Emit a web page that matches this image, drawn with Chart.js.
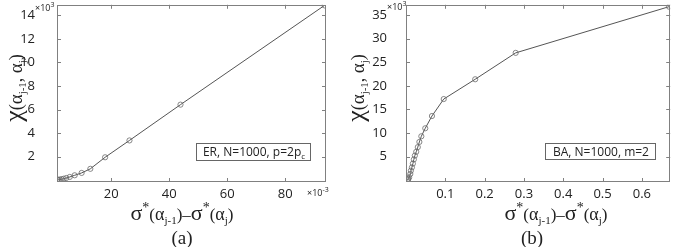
<!DOCTYPE html>
<html>
<head>
<meta charset="utf-8">
<style>
html, body { margin: 0; padding: 0; background: #fff; }
#wrap { position: relative; width: 675px; height: 247px; overflow: hidden; }
#boxA { position: absolute; left: 0; top: 0; width: 340px; height: 247px; }
#boxB { position: absolute; left: 340px; top: 0; width: 335px; height: 247px; }
</style>
</head>
<body>
<div id="wrap">
	<div id="boxA"><canvas id="chartA" width="340" height="247"></canvas></div>
	<div id="boxB"><canvas id="chartB" width="335" height="247"></canvas></div>
</div>

<script src="https://cdn.jsdelivr.net/npm/chart.js"></script>
<script>
// (a) ER network, x in units of 1e-3, y in units of 1e3
const erX = [1.4, 1.8, 2.3, 2.9, 3.6, 4.5, 5.7, 7.4, 9.8, 12.8, 17.9, 26.3, 43.9, 93.6];
const erY = [0.02, 0.04, 0.06, 0.09, 0.13, 0.19, 0.28, 0.42, 0.62, 0.97, 1.95, 3.38, 6.42, 14.85];
const erXTicks = [20, 40, 60, 80];
const erYTicks = [2, 4, 6, 8, 10, 12, 14];

// (b) BA network, y in units of 1e3
const baX = [0.004, 0.005, 0.006, 0.008, 0.011, 0.0124, 0.015, 0.0175, 0.020, 0.0225, 0.026, 0.030, 0.034, 0.039, 0.049, 0.066, 0.096, 0.176, 0.279, 0.669];
const baY = [0.05, 0.15, 0.3, 0.6, 1.3, 2.0, 2.7, 3.5, 4.4, 5.2, 6.0, 7.0, 8.1, 9.3, 11.0, 13.6, 17.2, 21.4, 27.0, 36.8];
const baXTicks = [0.1, 0.2, 0.3, 0.4, 0.5, 0.6];
const baYTicks = [5, 10, 15, 20, 25, 30, 35];

const sansFam = 'Open Sans';
const serifFam = 'Liberation Serif';
const textCol = '#222';

const yTitle = [
	{t:'χ', s:26}, {t:'(', s:18}, {t:'α', s:19}, {t:'j-1', s:11, dy:4},
	{t:', ', s:18}, {t:'α', s:19}, {t:'j', s:11, dy:4}, {t:')', s:18}
];
const xTitle = [
	{t:'σ', s:22}, {t:'*', s:14, dy:-8}, {t:'(', s:17}, {t:'α', s:18}, {t:'j-1', s:11, dy:4}, {t:')', s:17},
	{t:'–', s:17},
	{t:'σ', s:22}, {t:'*', s:14, dy:-8}, {t:'(', s:17}, {t:'α', s:18}, {t:'j', s:11, dy:4}, {t:')', s:17}
];

function richWidth(ctx, parts, fam) {
	let w = 0;
	for (const p of parts) { ctx.font = p.s + 'px "' + (p.f || fam) + '"'; w += ctx.measureText(p.t).width; }
	return w;
}
function drawRich(ctx, parts, cx, y, fam, align) {
	let x = align === 'left' ? cx : cx - richWidth(ctx, parts, fam) / 2;
	ctx.textAlign = 'left';
	ctx.textBaseline = 'alphabetic';
	for (const p of parts) {
		ctx.font = p.s + 'px "' + (p.f || fam) + '"';
		ctx.fillText(p.t, x, y + (p.dy || 0));
		x += ctx.measureText(p.t).width;
	}
}

const decor = {
	id: 'decor',
	afterDraw(chart, args, o) {
		const {ctx, chartArea: a} = chart;
		const sx = chart.scales.x, sy = chart.scales.y;
		ctx.save();
		// frame
		ctx.strokeStyle = '#808080';
		ctx.lineWidth = 1;
		ctx.strokeRect(Math.round(a.left) + 0.5, Math.round(a.top) + 0.5, Math.round(a.right - a.left) - 1, Math.round(a.bottom - a.top) - 1);
		// inner ticks on all four sides
		ctx.beginPath();
		for (const v of o.xTicks) {
			const px = Math.round(sx.getPixelForValue(v)) + 0.5;
			ctx.moveTo(px, a.bottom); ctx.lineTo(px, a.bottom - 4);
			ctx.moveTo(px, a.top); ctx.lineTo(px, a.top + 4);
		}
		for (const v of o.yTicks) {
			const py = Math.round(sy.getPixelForValue(v)) + 0.5;
			ctx.moveTo(a.left, py); ctx.lineTo(a.left + 4, py);
			ctx.moveTo(a.right, py); ctx.lineTo(a.right - 4, py);
		}
		ctx.stroke();

		// legend box
		const b = o.box;
		ctx.fillStyle = '#fff';
		ctx.fillRect(b.x, b.y, b.w, b.h);
		ctx.strokeStyle = '#666';
		ctx.strokeRect(b.x + 0.5, b.y + 0.5, b.w, b.h);
		ctx.fillStyle = textCol;
		drawRich(ctx, o.boxText, b.x + b.w / 2 + 1, b.y + 13, sansFam);

		// multipliers
		drawRich(ctx, [{t:'×10', s:9}, {t:'3', s:7, dy:-4}], o.yMul.x, o.yMul.y, sansFam, 'left');
		if (o.xMul) drawRich(ctx, [{t:'×10', s:9}, {t:'-3', s:7, dy:-4}], o.xMul.x, o.xMul.y, sansFam, 'left');

		// axis titles
		ctx.save();
		ctx.translate(o.yTitlePos.x, o.yTitlePos.y);
		ctx.rotate(-Math.PI / 2);
		drawRich(ctx, yTitle, 0, 0, serifFam);
		ctx.restore();
		drawRich(ctx, xTitle, o.xTitlePos.x, o.xTitlePos.y, serifFam);

		// panel label
		ctx.font = '19px "' + serifFam + '"';
		ctx.textAlign = 'center';
		ctx.textBaseline = 'alphabetic';
		ctx.fillText(o.panel, o.panelPos.x, o.panelPos.y);
		ctx.restore();
	}
};

function makeChart(id, xs, ys, opt) {
	return new Chart(document.getElementById(id), {
		type: 'scatter',
		data: {
			datasets: [{
				data: xs.map((v, i) => ({x: v, y: ys[i]})),
				showLine: true,
				borderColor: '#555',
				borderWidth: 1,
				pointRadius: 2.6,
				pointBorderWidth: 0.8,
				pointBorderColor: '#6a6a6a',
				pointBackgroundColor: 'rgba(0,0,0,0)'
			}]
		},
		options: {
			responsive: false,
			animation: false,
			events: [],
			layout: { padding: { top: opt.padTop, right: opt.padRight, left: 0, bottom: 0 } },
			plugins: {
				legend: { display: false },
				tooltip: { enabled: false },
				decor: opt.decor
			},
			scales: {
				x: {
					type: 'linear',
					min: opt.xMin, max: opt.xMax,
					afterBuildTicks: s => { s.ticks = opt.xTicks.map(v => ({value: v})); },
					grid: { display: false, drawTicks: false },
					border: { display: false },
					ticks: { font: {family: sansFam, size: 13}, color: textCol, padding: 4, maxRotation: 0, autoSkip: false,
						callback: (v) => String(v) },
					afterFit: s => { s.height = 65; s.paddingLeft = 0; s.paddingRight = 0; }
				},
				y: {
					type: 'linear',
					min: opt.yMin, max: opt.yMax,
					afterBuildTicks: s => { s.ticks = opt.yTicks.map(v => ({value: v})); },
					grid: { display: false, drawTicks: false },
					border: { display: false },
					ticks: { font: {family: sansFam, size: 13}, color: textCol, padding: opt.yPad, autoSkip: false,
						callback: (v) => String(v) },
					afterFit: s => { s.width = opt.yWidth; s.paddingTop = 0; s.paddingBottom = 0; }
				}
			}
		},
		plugins: [decor]
	});
}

makeChart('chartA', erX, erY, {
	xMin: 1.3, xMax: 94.1, yMin: -0.15, yMax: 14.9,
	xTicks: erXTicks, yTicks: erYTicks,
	padTop: 2, padRight: 14, yWidth: 57, yPad: 22,
	decor: {
		xTicks: erXTicks, yTicks: erYTicks,
		box: {x: 196, y: 143, w: 114, h: 17},
		boxText: [{t:'ER, N=1000, p=2p', s:12}, {t:'c', s:8, dy:3}],
		yMul: {x: 35, y: 11},
		xMul: {x: 307, y: 196},
		yTitlePos: {x: 22, y: 88},
		xTitlePos: {x: 182, y: 220},
		panel: '(a)', panelPos: {x: 182, y: 244}
	}
});

makeChart('chartB', baX, baY, {
	xMin: 0, xMax: 0.672, yMin: -0.4, yMax: 37.2,
	xTicks: baXTicks, yTicks: baYTicks,
	padTop: 1, padRight: 2, yWidth: 66, yPad: 19,
	decor: {
		xTicks: baXTicks, yTicks: baYTicks,
		box: {x: 205, y: 143, w: 110, h: 16},
		boxText: [{t:'BA, N=1000, m=2', s:12}],
		yMul: {x: 47, y: 10},
		xMul: null,
		yTitlePos: {x: 24, y: 88},
		xTitlePos: {x: 216, y: 220},
		panel: '(b)', panelPos: {x: 192, y: 244}
	}
});
</script>
</body>
</html>
